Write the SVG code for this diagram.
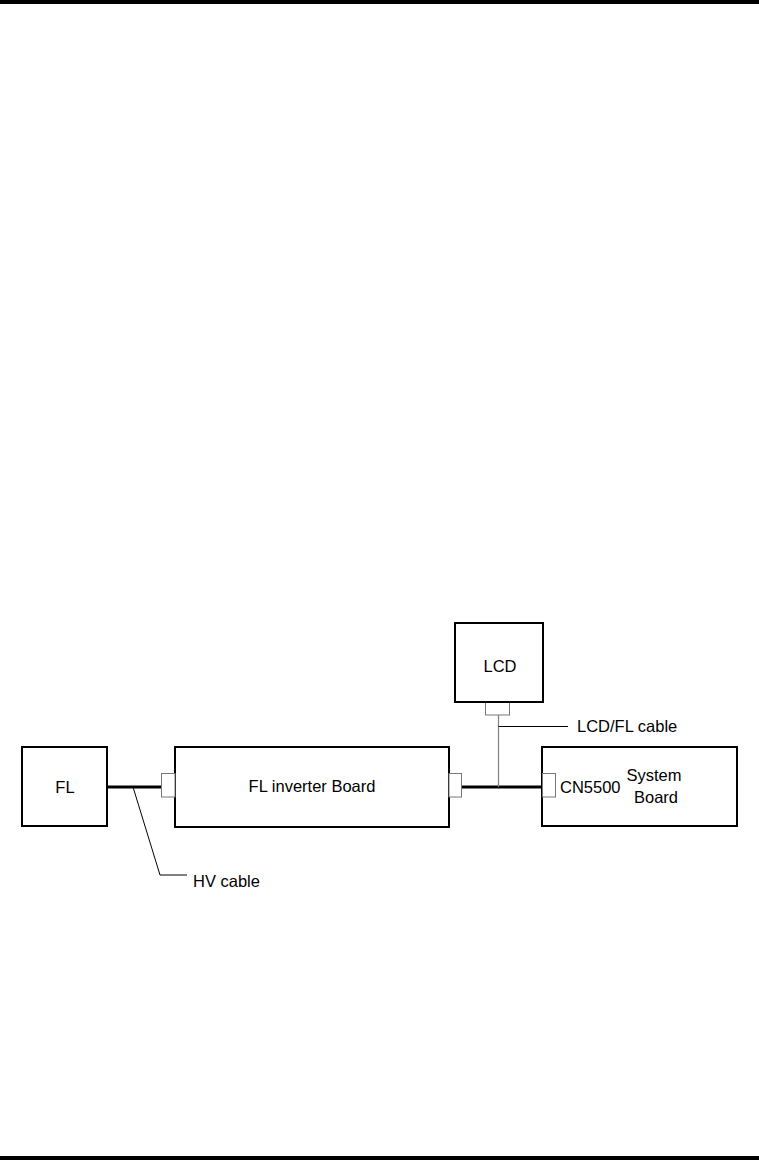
<svg xmlns="http://www.w3.org/2000/svg" width="759" height="1160" viewBox="0 0 759 1160">
<style>
.box{fill:#fff;stroke:#000;stroke-width:2}
.conn{fill:#fff;stroke:#777;stroke-width:1}
.cable{fill:none;stroke:#000;stroke-width:3}
.lead{fill:none;stroke:#000;stroke-width:1}
.glead{fill:none;stroke:#808080;stroke-width:1.2}
text{font-family:"Liberation Sans",Arial,sans-serif;font-size:16.5px;fill:#000}
</style>
<rect x="0" y="0" width="759" height="4" fill="#000"/>
<rect x="0" y="1156" width="759" height="4" fill="#000"/>
<g id="connectors">
<line class="cable" x1="107" y1="787" x2="162" y2="787"/>
<line class="cable" x1="461" y1="787" x2="542" y2="787"/>
<line class="glead" x1="498.5" y1="715" x2="498.5" y2="787"/>
<polyline class="lead" points="133,787 160,875 187,875"/>
<line class="lead" x1="498.5" y1="726.5" x2="568" y2="726.5"/>
</g>
<g id="fl">
<rect class="box" x="22" y="747" width="85" height="79"/>
<text x="65" y="793" text-anchor="middle">FL</text>
</g>
<g id="inverter">
<rect class="box" x="175" y="747" width="274" height="80"/>
<rect class="conn" x="161.5" y="773.5" width="13.5" height="23.5"/>
<rect class="conn" x="449" y="773.5" width="12.5" height="23.5"/>
<text x="312" y="792" text-anchor="middle">FL inverter Board</text>
</g>
<g id="lcd">
<rect class="box" x="455" y="623" width="88" height="79"/>
<rect class="conn" x="485.5" y="702.5" width="24" height="12.5"/>
<line x1="485" y1="702" x2="510" y2="702" stroke="#000" stroke-width="2"/>
<text x="500" y="672" text-anchor="middle">LCD</text>
</g>
<g id="system">
<rect class="box" x="542" y="747" width="195" height="79"/>
<rect class="conn" x="542.5" y="773.5" width="13" height="23.5"/>
<text x="560" y="793">CN5500</text>
<text x="654" y="781" text-anchor="middle">System</text>
<text x="656" y="803" text-anchor="middle">Board</text>
</g>
<g id="labels">
<text x="577" y="732">LCD/FL cable</text>
<text x="193" y="887">HV cable</text>
</g>
</svg>
